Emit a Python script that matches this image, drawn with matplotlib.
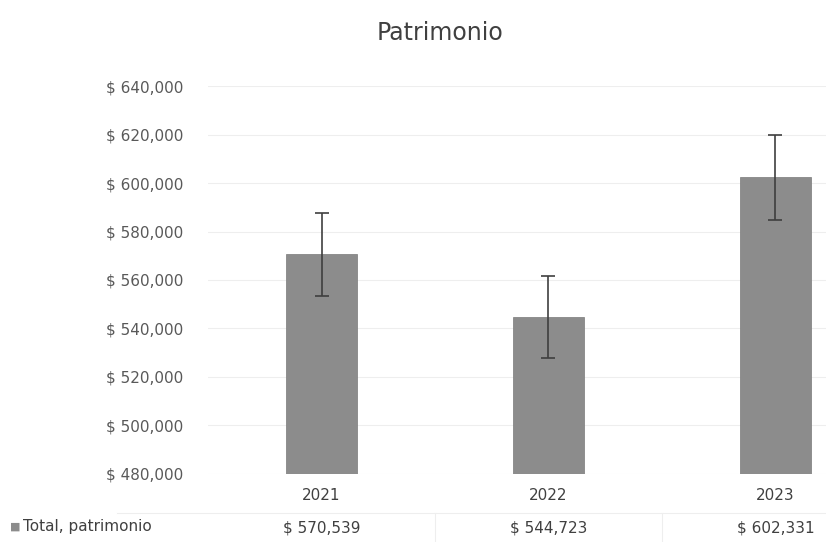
import matplotlib.pyplot as plt
import matplotlib.transforms as mtransforms
from matplotlib.ticker import FuncFormatter

# data
years = ['2021', '2022', '2023']
patrimonio = [570539, 544723, 602331]
errores = [17000, 17000, 17500]
series_name = 'Total, patrimonio'

plt.rcParams['font.family'] = ['DejaVu Sans']

fig = plt.figure(figsize=(8.26, 5.42), dpi=100)
ax = fig.add_axes([0.252, 0.1255, 0.824, 0.7158])

x = range(len(years))
ax.bar(x, [v - 480000 for v in patrimonio], bottom=480000, width=0.31,
       color='#8c8c8c', edgecolor='#7a7a7a', linewidth=0.5, zorder=2)
ax.errorbar(x, patrimonio, yerr=errores, fmt='none', ecolor='#3f3f3f',
            elinewidth=1.2, capsize=5, capthick=1.2, zorder=3)

ax.set_xlim(-0.5, 2.5)
ax.set_ylim(480000, 640000)
ax.set_yticks(range(480000, 640001, 20000))
ax.yaxis.set_major_formatter(FuncFormatter(lambda v, p: '$ {:,.0f}'.format(v)))
ax.tick_params(axis='y', length=0, labelsize=11, labelcolor='#595959', pad=18)
ax.set_xticks([])
ax.grid(axis='y', color='#eeeeee', linewidth=0.8, zorder=0)
for s in ax.spines.values():
    s.set_visible(False)

# data table under the plot
trans = mtransforms.blended_transform_factory(ax.transData, ax.transAxes)
for i, (yr, v) in enumerate(zip(years, patrimonio)):
    ax.text(i, -0.055, yr, transform=trans, ha='center', va='center',
            fontsize=11, color='#404040')
    ax.text(i, -0.14, '$ {:,.0f}'.format(v), transform=trans, ha='center',
            va='center', fontsize=11, color='#404040')
fig.text(0.012, 0.028, '\u25a0', color='#8c8c8c', fontsize=8, va='center')
fig.text(0.028, 0.028, series_name, color='#404040', fontsize=11, va='center')
for xs in [0.5, 1.5]:
    ax.plot([xs, xs], [-0.2, -0.1], transform=trans, color='#eeeeee',
            linewidth=0.8, clip_on=False)
ax.plot([-0.9, 2.5], [-0.1, -0.1], transform=trans, color='#eeeeee',
        linewidth=0.8, clip_on=False)

fig.text(0.533, 0.94, 'Patrimonio', ha='center', va='center', fontsize=17,
         color='#404040')

fig.savefig('out.png', dpi=100)
